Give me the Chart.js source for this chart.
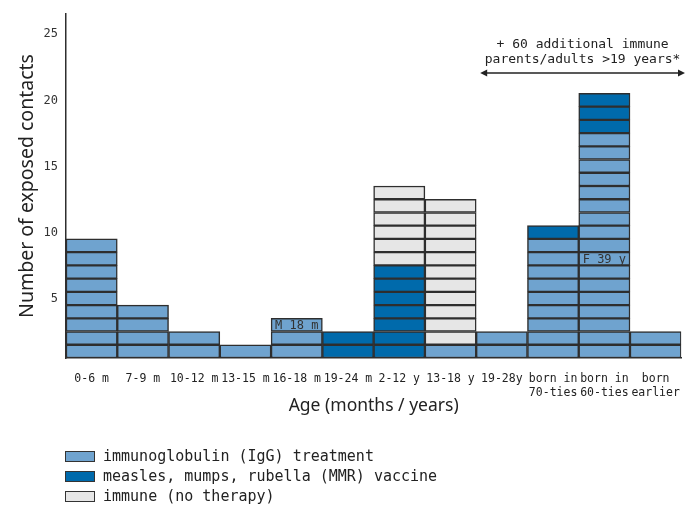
<!DOCTYPE html>
<html>
<head>
<meta charset="utf-8">
<script src="https://cdn.jsdelivr.net/npm/chart.js@4.4.1/dist/chart.umd.min.js"></script>
<style>
  body { margin: 0; background: #fff; }
  #wrap { position: relative; width: 686px; height: 505px; }
  #legend { position: absolute; left: 65px; top: 446px; font-family: "DejaVu Sans Mono", monospace; font-size: 15px; color: #222; }
  .item { display: flex; align-items: center; height: 20px; }
  .box { width: 28px; height: 9px; border: 1.5px solid #333; margin-right: 8px; }
</style>
</head>
<body>
<div id="wrap">
  <canvas id="chart" width="686" height="505"></canvas>
  <div id="legend"></div>
</div>
<script>
const categories = ["0-6 m", "7-9 m", "10-12 m", "13-15 m", "16-18 m", "19-24 m", "2-12 y", "13-18 y", "19-28y",
    ["born in", "70-ties"], ["born in", "60-ties"], ["born", "earlier"]];
const iggCounts = [9, 4, 2, 1, 3, 0, 0, 1, 2, 9, 17, 2];
const mmrCounts = [0, 0, 0, 0, 0, 2, 7, 0, 0, 1, 3, 0];
const immuneCounts = [0, 0, 0, 0, 0, 0, 6, 11, 0, 0, 0, 0];
const seriesNames = ["immunoglobulin (IgG) treatment", "measles, mumps, rubella (MMR) vaccine", "immune (no therapy)"];
const seriesColors = ["#6fa3cf", "#006aab", "#e6e6e6"];
const yTicks = [5, 10, 15, 20, 25];
const yMax = 26;
// notes written inside single cells: category index, value at cell centre
const cellNotes = [
    { category: 4, value: 2.5, text: "M 18 m" },
    { category: 10, value: 7.5, text: "F 39 y" }
];
const noteLines = ["+ 60 additional immune", "parents/adults >19 years*"];
const noteFromCategory = 8;

const mono = "DejaVu Sans Mono";
const edge = "#2e2e2e";

// one dataset per unit so every person is its own bordered cell
const datasets = [];
[iggCounts, mmrCounts, immuneCounts].forEach((counts, s) => {
    const most = Math.max(...counts);
    for (let k = 0; k < most; k++) {
        datasets.push({
            label: seriesNames[s],
            data: counts.map(v => v > k ? 1 : null),
            backgroundColor: seriesColors[s],
            borderColor: edge,
            borderWidth: 1.5,
            borderSkipped: false,
            stack: "all",
            barPercentage: 1,
            categoryPercentage: 1
        });
    }
});

// legend as html
const legendDiv = document.getElementById("legend");
seriesNames.forEach((name, i) => {
    const row = document.createElement("div");
    row.className = "item";
    row.innerHTML = `<span class="box" style="background:${seriesColors[i]}"></span><span>${name}</span>`;
    legendDiv.appendChild(row);
});

const notesPlugin = {
    id: "notes",
    afterDatasetsDraw(chart) {
        const ctx = chart.ctx;
        const x = chart.scales.x, y = chart.scales.y;
        ctx.save();
        ctx.fillStyle = "#333";
        ctx.font = `12px "${mono}"`;
        ctx.textAlign = "center";
        ctx.textBaseline = "middle";
        cellNotes.forEach(n => {
            ctx.fillText(n.text, x.getPixelForValue(n.category), y.getPixelForValue(n.value) + 1);
        });

        // arrow over the adult groups
        const half = (x.getPixelForValue(1) - x.getPixelForValue(0)) / 2;
        const x0 = x.getPixelForValue(noteFromCategory) - half + 4;
        const x1 = chart.width - 1;
        const ay = 73;
        ctx.font = `13px "${mono}"`;
        ctx.fillStyle = "#222";
        const cx = (x0 + x1) / 2;
        ctx.fillText(noteLines[0], cx, 45);
        ctx.fillText(noteLines[1], cx, 60);
        ctx.strokeStyle = "#222";
        ctx.lineWidth = 1.3;
        ctx.beginPath();
        ctx.moveTo(x0 + 4, ay);
        ctx.lineTo(x1 - 4, ay);
        ctx.stroke();
        ctx.beginPath();
        ctx.moveTo(x0, ay); ctx.lineTo(x0 + 7, ay - 3.5); ctx.lineTo(x0 + 7, ay + 3.5); ctx.closePath();
        ctx.moveTo(x1, ay); ctx.lineTo(x1 - 7, ay - 3.5); ctx.lineTo(x1 - 7, ay + 3.5); ctx.closePath();
        ctx.fill();
        ctx.restore();
    }
};

new Chart(document.getElementById("chart"), {
    type: "bar",
    data: { labels: categories, datasets: datasets },
    options: {
        responsive: false,
        animation: false,
        layout: { padding: { left: 12, right: 3, top: 14, bottom: 84 } },
        plugins: { legend: { display: false }, tooltip: { enabled: false } },
        scales: {
            x: {
                stacked: true,
                grid: { display: false },
                border: { display: true, color: edge, width: 1.5 },
                ticks: { color: "#222", font: { family: mono, size: 11.5 }, padding: 6, maxRotation: 0, autoSkip: false },
                title: { display: true, text: "Age (months / years)", color: "#222", font: { family: "Noto Sans", size: 17.5 } },
                afterFit(scale) { scale.height = 63; }
            },
            y: {
                stacked: true,
                min: 0,
                max: yMax,
                grid: { display: false },
                border: { display: true, color: edge, width: 1.5 },
                ticks: { color: "#333", font: { family: mono, size: 12 }, padding: 0, labelOffset: 7 },
                afterBuildTicks(scale) { scale.ticks = yTicks.map(v => ({ value: v })); },
                title: { display: true, text: "Number of exposed contacts", color: "#222", font: { family: "Noto Sans", size: 19.5 } },
                afterFit(scale) { scale.width = 54; }
            }
        }
    },
    plugins: [notesPlugin]
});
</script>
</body>
</html>
